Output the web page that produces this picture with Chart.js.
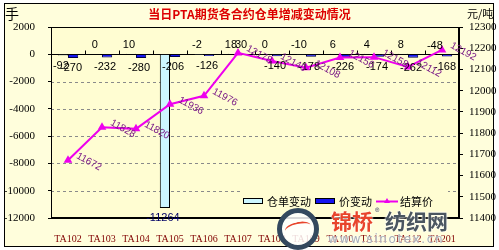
<!DOCTYPE html>
<html>
<head>
<meta charset="utf-8">
<script src="https://cdn.jsdelivr.net/npm/chart.js@4.4.0/dist/chart.umd.min.js"></script>
<style>
  html, body { margin: 0; padding: 0; background: #fff; }
  #wrap { position: relative; width: 499px; height: 250px; overflow: hidden; }
  #chart { position: absolute; left: 0; top: 0; }
  .wm { position: absolute; white-space: nowrap; font-family: "Noto Sans CJK SC"; font-weight: bold;
        text-shadow: 0 0 2px #fff, 0 0 2px #fff; }
  #logo { position: absolute; left: 277px; top: 208px; width: 32px; height: 32px;
          border: 5px solid #34495e; border-radius: 50%; background: rgba(255,255,255,0.85); }
  #swoosh { position: absolute; left: 285px; top: 222px; width: 26px; height: 10px;
            border-top: 2px solid #e8452c; border-radius: 50% 50% 0 0; transform: rotate(-12deg); }
</style>
</head>
<body>
<div id="wrap">
  <canvas id="chart" width="499" height="250"></canvas>
  <div id="logo"></div>
  <div id="swoosh"></div>
  <div class="wm" style="left:331px;top:205px;font-size:21px;color:#e8452c;">锦桥</div>
  <div class="wm" style="left:375px;top:206px;font-size:9px;color:#666;">®</div>
  <div class="wm" style="left:385px;top:205px;font-size:21px;color:#4b5660;">纺织网</div>
  <div class="wm" style="left:328px;top:232px;font-size:12px;color:#a9b1b8;letter-spacing:1.6px;font-family:'DejaVu Sans';font-weight:normal;">www.sinotex.cn</div>
</div>
<script>
// 合约
const contracts = ['TA102', 'TA103', 'TA104', 'TA105', 'TA106', 'TA107',
                   'TA108', 'TA109', 'TA110', 'TA111', 'TA112', 'TA201'];
// 仓单变动 (手)
const receiptChange = [-92, 0, 10, -11264, -2, 18, 0, -10, 6, 4, 8, -48];
// 价变动 (元/吨)
const priceChange = [-270, -232, -280, -206, -126, 30, -140, -178, -226, -174, -262, -168];
// 结算价 (元/吨)
const settlePrice = [11672, 11828, 11820, 11936, 11976, 12178, 12140, 12108, 12156, 12158, 12112, 12192];

const leftTicks = [2000, 0, -2000, -4000, -6000, -8000, -10000, -12000];
const rightTicks = [12300, 12200, 12100, 12000, 11900, 11800, 11700, 11600, 11500, 11400];

const outerBg = '#FFFEDC';
const plotBg = '#FFFDD2';
const lightBlue = '#CCF6FF';
const blue = '#1414F0';
const magenta = '#EE00EE';

const framePlugin = {
    id: 'frame',
    beforeDraw(chart) {
        const { ctx, chartArea: a, width, height } = chart;
        ctx.save();
        ctx.fillStyle = '#fff';
        ctx.fillRect(0, 0, width, height);
        ctx.fillStyle = outerBg;
        ctx.fillRect(4, 3, width - 9, height - 6);
        ctx.strokeStyle = '#000';
        ctx.lineWidth = 1;
        ctx.strokeRect(4.5, 3.5, width - 10, height - 7);
        ctx.fillStyle = plotBg;
        ctx.fillRect(a.left, a.top, a.right - a.left, a.bottom - a.top);
        ctx.restore();
    },
    beforeDatasetsDraw(chart) {
        // 网格线 + 零线
        const { ctx, chartArea: a, scales } = chart;
        const y = scales.y;
        ctx.save();
        ctx.lineWidth = 1;
        leftTicks.forEach(v => {
            if (v === leftTicks[0] || v === leftTicks[leftTicks.length - 1]) return;
            const py = Math.round(y.getPixelForValue(v)) + 0.5;
            ctx.beginPath();
            if (v === 0) {
                ctx.setLineDash([]);
                ctx.strokeStyle = '#000';
            } else {
                ctx.setLineDash([3, 3]);
                ctx.strokeStyle = '#8a8a8a';
            }
            ctx.moveTo(a.left, py);
            ctx.lineTo(a.right, py);
            ctx.stroke();
        });
        ctx.setLineDash([]);
        // 分类刻度
        const x = scales.x;
        const zy = Math.round(y.getPixelForValue(0)) + 0.5;
        ctx.strokeStyle = '#000';
        for (let i = 0; i < contracts.length - 1; i++) {
            const bx = Math.round((x.getPixelForValue(i) + x.getPixelForValue(i + 1)) / 2) + 0.5;
            ctx.beginPath();
            ctx.moveTo(bx, zy);
            ctx.lineTo(bx, zy - 4);
            ctx.stroke();
        }
        ctx.restore();
    },
    afterDraw(chart) {
        const { ctx, chartArea: a, width } = chart;
        ctx.save();
        ctx.strokeStyle = '#000';
        ctx.lineWidth = 1;
        ctx.strokeRect(Math.round(a.left) + 0.5, Math.round(a.top) + 0.5,
                       Math.round(a.right - a.left) - 1, Math.round(a.bottom - a.top) - 1);

        // 柱子标签
        ctx.font = '11px "Liberation Sans"';
        ctx.textAlign = 'center';
        ctx.textBaseline = 'middle';
        [0, 1].forEach(di => {
            const meta = chart.getDatasetMeta(di);
            const vals = chart.data.datasets[di].data;
            meta.data.forEach((el, i) => {
                const v = vals[i];
                // 仓单小幅减少也标在零线上方
                const above = di === 0 ? v > -50 : v >= 0;
                let ty = above ? el.y - 9 : el.y + 10;
                if (!above) ty = Math.min(ty, a.bottom + 1);
                ctx.fillStyle = (!above && ty > a.bottom - 5) ? '#000066' : '#000';
                ctx.fillText(String(v), el.x - 2, ty);
            });
        });

        // 结算价标签
        const lmeta = chart.getDatasetMeta(2);
        ctx.font = '10px "Liberation Sans"';
        ctx.textAlign = 'left';
        ctx.fillStyle = '#7a1a86';
        lmeta.data.forEach((pt, i) => {
            ctx.save();
            ctx.translate(pt.x + 9, pt.y - 5);
            ctx.rotate(0.5);
            ctx.fillText(String(settlePrice[i]), 0, 0);
            ctx.restore();
        });

        // 图例
        const ly = a.bottom - 17;
        let lx = a.right - 216;
        ctx.fillStyle = plotBg;
        ctx.fillRect(lx - 3, ly - 10, 208, 19);
        ctx.font = '11px "Noto Sans CJK SC"';
        ctx.textBaseline = 'middle';
        const items = [
            { label: '仓单变动', kind: 'box', color: lightBlue },
            { label: '价变动', kind: 'box', color: blue },
            { label: '结算价', kind: 'line', color: magenta }
        ];
        items.forEach(it => {
            if (it.kind === 'box') {
                ctx.fillStyle = it.color;
                ctx.fillRect(lx, ly - 3, 20, 6);
                ctx.strokeStyle = '#000';
                ctx.strokeRect(lx + 0.5, ly - 2.5, 19, 5);
            } else {
                ctx.strokeStyle = magenta;
                ctx.lineWidth = 2;
                ctx.beginPath();
                ctx.moveTo(lx, ly + 0.5);
                ctx.lineTo(lx + 22, ly + 0.5);
                ctx.stroke();
                ctx.fillStyle = magenta;
                ctx.beginPath();
                ctx.moveTo(lx + 11, ly - 3);
                ctx.lineTo(lx + 14, ly + 2);
                ctx.lineTo(lx + 8, ly + 2);
                ctx.fill();
                ctx.lineWidth = 1;
            }
            lx += 24;
            ctx.fillStyle = '#000';
            ctx.fillText(it.label, lx, ly + 1);
            lx += ctx.measureText(it.label).width + 4;
        });

        // 标题和单位
        ctx.textAlign = 'center';
        ctx.fillStyle = '#dd0000';
        ctx.font = 'bold 12px "Noto Sans CJK SC"';
        ctx.fillText('当日PTA期货各合约仓单增减变动情况', width / 2, 14);
        ctx.fillStyle = '#000';
        ctx.textAlign = 'left';
        ctx.font = '14px "Noto Sans CJK SC"';
        ctx.fillText('手', 5, 14);
        ctx.font = '11px "Noto Sans CJK SC"';
        ctx.fillText('元/吨', 467, 14);
        ctx.restore();
    }
};

const ctx = document.getElementById('chart').getContext('2d');
const chart = new Chart(ctx, {
    type: 'bar',
    data: {
        labels: contracts,
        datasets: [
            {
                label: '仓单变动',
                data: receiptChange,
                backgroundColor: lightBlue,
                borderColor: '#000',
                borderWidth: 1,
                yAxisID: 'y',
                categoryPercentage: 0.6,
                barPercentage: 1,
                order: 2
            },
            {
                label: '价变动',
                data: priceChange,
                backgroundColor: blue,
                borderColor: '#000050',
                borderWidth: 1,
                yAxisID: 'y',
                categoryPercentage: 0.6,
                barPercentage: 1,
                order: 2
            },
            {
                type: 'line',
                label: '结算价',
                data: settlePrice,
                yAxisID: 'y1',
                borderColor: magenta,
                backgroundColor: magenta,
                borderWidth: 2,
                pointStyle: 'triangle',
                pointRadius: 3,
                tension: 0,
                order: 1
            }
        ]
    },
    options: {
        responsive: false,
        animation: false,
        layout: { padding: { top: 27, left: 0, right: 0, bottom: 0 } },
        plugins: {
            legend: { display: false },
            tooltip: { enabled: false }
        },
        scales: {
            x: {
                grid: { display: false },
                border: { color: '#000' },
                ticks: {
                    color: '#800000',
                    font: { family: 'Liberation Serif', size: 10 },
                    padding: 7,
                    maxRotation: 0,
                    autoSkip: false
                },
                afterFit: s => { s.height = 32; }
            },
            y: {
                position: 'left',
                min: leftTicks[leftTicks.length - 1],
                max: leftTicks[0],
                afterBuildTicks: s => { s.ticks = leftTicks.map(v => ({ value: v })); },
                grid: { drawOnChartArea: false, tickLength: 3, tickColor: '#000' },
                border: { color: '#000' },
                ticks: {
                    color: '#000',
                    font: { family: 'Liberation Sans Narrow', size: 11 },
                    padding: 13,
                    callback: v => String(v)
                },
                afterFit: s => { s.width = 51; }
            },
            y1: {
                position: 'right',
                min: rightTicks[rightTicks.length - 1],
                max: rightTicks[0],
                afterBuildTicks: s => { s.ticks = rightTicks.map(v => ({ value: v })); },
                grid: { drawOnChartArea: false, tickLength: 4, tickColor: '#000' },
                border: { color: '#000' },
                ticks: {
                    color: '#000',
                    font: { family: 'Liberation Sans Narrow', size: 11 },
                    padding: 6,
                    callback: v => String(v)
                },
                afterFit: s => { s.width = 40; }
            }
        }
    },
    plugins: [framePlugin]
});
</script>
</body>
</html>
